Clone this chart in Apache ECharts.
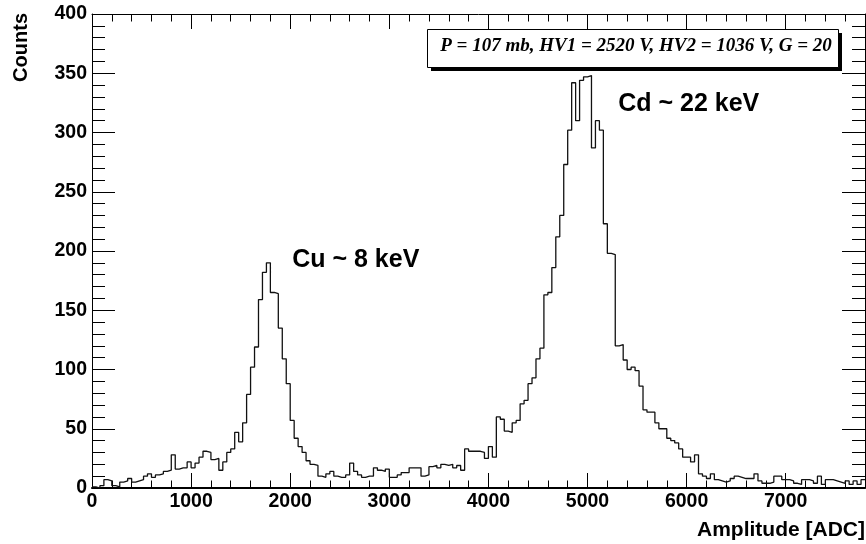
<!DOCTYPE html>
<html>
<head>
<meta charset="utf-8">
<script src="https://cdn.jsdelivr.net/npm/echarts@6/dist/echarts.min.js"></script>
<style>
  html, body { margin: 0; padding: 0; background: #fff; }
  #chart { width: 866px; height: 544px; }
</style>
</head>
<body>
<div id="chart"></div>
<script>
// Pulse-height spectrum: 40 ADC-channel bins from 0 to 7800
const binWidth = 40;
const xMin = 0, xMax = 7800;
const yMin = 0, yMax = 400;
const xMajorStep = 1000, xMinorStep = 200;
const yMajorStep = 50;

const counts = [
  1, 0, 2, 7, 6, 2, 1, 5, 6, 8,
  5, 6, 7, 10, 12, 9, 11, 12, 14, 15,
  28, 16, 17, 17, 22, 17, 21, 26, 31, 30,
  24, 25, 15, 22, 30, 33, 47, 39, 55, 79,
  102, 119, 159, 182, 190, 165, 164, 135, 109, 88,
  57, 42, 35, 30, 23, 20, 19, 10, 9, 12,
  14, 10, 9, 9, 11, 21, 14, 11, 9, 10,
  10, 17, 15, 14, 16, 9, 9, 11, 13, 13,
  17, 17, 17, 10, 11, 18, 19, 17, 20, 19,
  20, 17, 19, 15, 33, 31, 31, 31, 30, 25,
  35, 26, 60, 58, 48, 47, 55, 57, 71, 74,
  88, 93, 109, 118, 163, 165, 186, 212, 230, 273,
  302, 342, 310, 344, 347, 348, 287, 310, 302, 223,
  198, 197, 120, 121, 108, 100, 102, 99, 86, 66,
  64, 64, 55, 50, 50, 42, 40, 38, 33, 26,
  26, 22, 28, 12, 10, 8, 12, 7, 6, 5,
  6, 8, 10, 9, 8, 8, 8, 12, 6, 4,
  4, 5, 10, 10, 7, 7, 6, 4, 3, 7,
  7, 6, 4, 10, 3, 7, 7, 6, 5, 4,
  6, 3, 6, 3, 7
];

const xTitle = 'Amplitude [ADC]';
const yTitle = 'Counts';
const runInfo = 'P = 107 mb, HV1 = 2520 V, HV2 = 1036 V, G = 20';
const peakNotes = [
  { text: 'Cu ~ 8 keV', at: [2020, 192] },
  { text: 'Cd ~ 22 keV', at: [5310, 324] }
];

// Step outline: each point is a bin's left edge; a closing point ends the last bin
const histData = counts.map((c, i) => [i * binWidth, c]);
histData.push([counts.length * binWidth, counts[counts.length - 1]]);

const sansBold = { fontFamily: 'Liberation Sans, Arial, Helvetica, sans-serif', fontWeight: 'bold' };
const black = '#000';
const plainNumber = function (v) { return String(v); };

function xAxisDef(position, step, tickLen, withLabels, lineWidth) {
  return {
    type: 'value', min: xMin, max: xMax, interval: step, position: position,
    axisLine: { show: lineWidth > 0, onZero: false, lineStyle: { color: black, width: lineWidth } },
    axisTick: { show: true, inside: true, length: tickLen, lineStyle: { color: black, width: 1 } },
    axisLabel: withLabels ? Object.assign({
      show: true, color: black, fontSize: 19.5, margin: 4, showMaxLabel: false, formatter: plainNumber
    }, sansBold) : { show: false },
    splitLine: { show: false }
  };
}

function yAxisDef(position, withLabels) {
  return {
    type: 'value', min: yMin, max: yMax, interval: yMajorStep, position: position,
    axisLine: { show: true, onZero: false, lineStyle: { color: black, width: 1 } },
    axisTick: { show: true, inside: true, length: 23, lineStyle: { color: black, width: 1 } },
    minorTick: { show: true, splitNumber: 5, length: 13, lineStyle: { color: black, width: 1 } },
    axisLabel: withLabels ? Object.assign({
      show: true, color: black, fontSize: 19.5, margin: 5, formatter: plainNumber
    }, sansBold) : { show: false },
    splitLine: { show: false }
  };
}

const chart = echarts.init(document.getElementById('chart'), null, { renderer: 'canvas' });

chart.setOption({
  animation: false,
  backgroundColor: '#fff',
  grid: { left: 92, right: 1, top: 14, bottom: 56, containLabel: false },
  xAxis: [
    xAxisDef('bottom', xMajorStep, 15, true, 2),
    xAxisDef('bottom', xMinorStep, 7.5, false, 0),
    xAxisDef('top', xMajorStep, 15, false, 1),
    xAxisDef('top', xMinorStep, 7.5, false, 0)
  ],
  yAxis: [
    yAxisDef('left', true),
    yAxisDef('right', false)
  ],
  series: [{
    type: 'line',
    xAxisIndex: 0,
    yAxisIndex: 0,
    step: 'end',
    data: histData,
    showSymbol: false,
    symbol: 'none',
    clip: true,
    lineStyle: { color: '#111', width: 1.3 }
  }]
});

// Titles, peak labels and the run-condition box
const graphics = [
  {
    type: 'text', x: 865, y: 530,
    style: Object.assign({ text: xTitle, fontSize: 21, fill: black, align: 'right', verticalAlign: 'middle' }, sansBold)
  },
  {
    type: 'text', x: 21, y: 13, rotation: Math.PI / 2,
    style: Object.assign({ text: yTitle, fontSize: 20, fill: black, align: 'right', verticalAlign: 'middle' }, sansBold)
  }
];

peakNotes.forEach(function (note) {
  const p = chart.convertToPixel({ xAxisIndex: 0, yAxisIndex: 0 }, note.at);
  graphics.push({
    type: 'text', x: p[0], y: p[1],
    style: Object.assign({ text: note.text, fontSize: 25, fill: black, align: 'left', verticalAlign: 'middle' }, sansBold)
  });
});

graphics.push(
  { type: 'rect', shape: { x: 431, y: 33, width: 411, height: 38 }, style: { fill: black } },
  { type: 'rect', shape: { x: 427.5, y: 29.5, width: 411, height: 38 }, style: { fill: '#fff', stroke: black, lineWidth: 1 } },
  {
    type: 'text', x: 636, y: 46,
    style: {
      text: runInfo, fontSize: 19, fill: black, align: 'center', verticalAlign: 'middle',
      fontFamily: 'Liberation Serif, Times New Roman, serif', fontWeight: 'bold', fontStyle: 'italic'
    }
  }
);

chart.setOption({ graphic: graphics });
</script>
</body>
</html>
